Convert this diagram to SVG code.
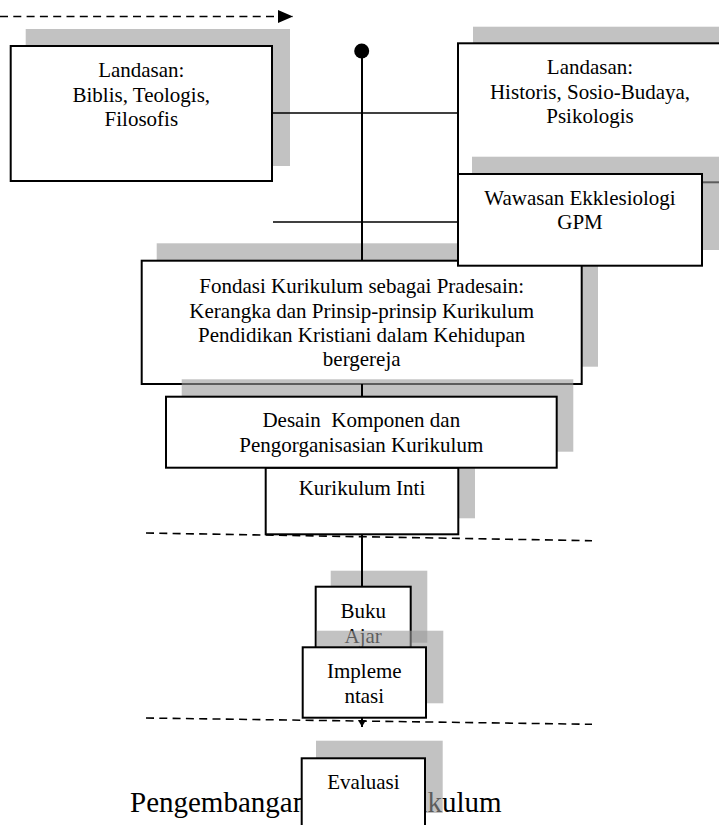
<svg xmlns="http://www.w3.org/2000/svg" width="719" height="825" viewBox="0 0 719 825">
<defs>
<style>
.sh{fill:#999999;opacity:0.6}
.bx{fill:#ffffff;stroke:#000000;stroke-width:2}
.t{font-family:"Liberation Serif","Times New Roman",serif;font-size:21px;fill:#000000;text-anchor:middle}
.big{font-family:"Liberation Serif","Times New Roman",serif;font-size:29px;fill:#000000}
.ln{stroke:#000000;stroke-width:2;fill:none}
.thin{stroke:#000000;stroke-width:1.4;fill:none}
.dash{stroke:#000000;stroke-width:1.6;stroke-dasharray:8 5.3;fill:none}
</style>
<marker id="arrBig" markerUnits="userSpaceOnUse" markerWidth="15" markerHeight="13" refX="15" refY="6.5" orient="auto">
<path d="M0,0 L15,6.5 L0,13 z" fill="#000000"/>
</marker>
<marker id="arrSmall" markerUnits="userSpaceOnUse" markerWidth="7" markerHeight="8" refX="7" refY="4" orient="auto">
<path d="M0,0 L7,4 L0,8 z" fill="#000000"/>
</marker>
</defs>
<rect width="719" height="825" fill="#ffffff"/>

<g id="landasan-biblis">
<rect class="sh" x="25.7" y="29" width="264.3" height="137"/>
<rect class="bx" x="10.7" y="46" width="261.3" height="135"/>
<text class="t" x="141.3" y="77">Landasan:</text>
<text class="t" x="141.3" y="101.5">Biblis, Teologis,</text>
<text class="t" x="141.3" y="126">Filosofis</text>
</g>

<g id="landasan-historis">
<rect class="sh" x="473" y="26.7" width="270" height="138.5"/>
<rect class="bx" x="458" y="43.3" width="264" height="139"/>
<text class="t" x="590" y="74">Landasan:</text>
<text class="t" x="590" y="98.5">Historis, Sosio-Budaya,</text>
<text class="t" x="590" y="123">Psikologis</text>
</g>

<g id="fondasi">
<rect class="sh" x="156.7" y="243.3" width="441.3" height="123.4"/>
<rect class="bx" x="141.7" y="260.7" width="440" height="123.3"/>
<text class="t" x="361.7" y="293.3">Fondasi Kurikulum sebagai Pradesain:</text>
<text class="t" x="361.7" y="317.7">Kerangka dan Prinsip-prinsip Kurikulum</text>
<text class="t" x="361.7" y="342">Pendidikan Kristiani dalam Kehidupan</text>
<text class="t" x="361.7" y="366">bergereja</text>
</g>

<g id="wawasan">
<rect class="sh" x="472" y="156.7" width="250" height="93.3"/>
<rect class="bx" x="458" y="174" width="244" height="91.7"/>
<text class="t" x="580" y="204.5">Wawasan Ekklesiologi</text>
<text class="t" x="580" y="229">GPM</text>
</g>

<g id="kurikulum-inti">
<rect class="sh" x="281" y="451" width="194" height="67.3"/>
<rect class="bx" x="265.7" y="467.7" width="192.6" height="66.6"/>
<text class="t" x="362" y="495">Kurikulum Inti</text>
</g>

<g id="desain">
<rect class="sh" x="181.7" y="379.3" width="391.6" height="72.4"/>
<rect class="bx" x="166" y="396.7" width="390.7" height="71"/>
<text class="t" x="361.3" y="427" xml:space="preserve">Desain  Komponen dan</text>
<text class="t" x="361.3" y="452.3">Pengorganisasian Kurikulum</text>
</g>

<g id="buku-ajar">
<rect class="sh" x="330.7" y="570.7" width="96.6" height="72"/>
<rect class="bx" x="315.7" y="586.7" width="95" height="73"/>
<text class="t" x="363.2" y="618.3">Buku</text>
<text class="t" x="363.2" y="643.3">Ajar</text>
</g>

<g id="implementasi">
<rect class="sh" x="316.7" y="630.7" width="126.6" height="72.6"/>
<rect class="bx" x="302.7" y="647.3" width="123.3" height="70.4"/>
<text class="t" x="364.3" y="678.3">Impleme</text>
<text class="t" x="364.3" y="702.7">ntasi</text>
</g>

<g id="judul">
<text class="big" x="130" y="811.7"><tspan x="130" y="811.7">Pengembangan</tspan><tspan x="374.4" y="811.7">Kurikulum</tspan></text>
</g>

<g id="evaluasi">
<rect class="sh" x="316" y="740.7" width="126.7" height="72.3"/>
<rect class="bx" x="301.7" y="758.3" width="123.3" height="80"/>
<text class="t" x="363.4" y="789.3">Evaluasi</text>
</g>

<g id="connectors">
<line class="dash" x1="0" y1="16.5" x2="293" y2="16.5" marker-end="url(#arrBig)"/>
<line class="ln" x1="362" y1="51" x2="362" y2="260.7"/>
<circle cx="361.7" cy="51" r="7.5" fill="#000000"/>
<line class="thin" x1="272" y1="113" x2="458" y2="113"/>
<line class="thin" x1="273" y1="222" x2="458" y2="222"/>
<line class="ln" x1="362" y1="384" x2="362" y2="396.7"/>
<line class="ln" x1="362" y1="534.3" x2="362" y2="586.7"/>
<line class="dash" x1="146" y1="533" x2="592" y2="540.7"/>
<line class="dash" x1="146" y1="718" x2="592" y2="724.3"/>
<line class="ln" x1="362" y1="717.7" x2="362" y2="727" marker-end="url(#arrSmall)"/>
</g>
</svg>
